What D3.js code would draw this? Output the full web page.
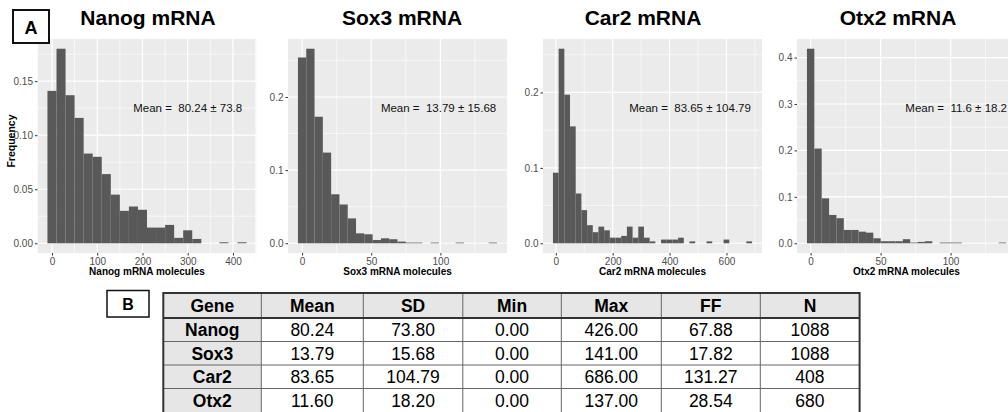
<!DOCTYPE html>
<html><head><meta charset="utf-8">
<script src="https://cdn.jsdelivr.net/npm/d3@7/dist/d3.min.js"></script>
<style>
body{margin:0;background:#fff;}
svg{display:block;font-family:"Liberation Sans",Arial,Helvetica,sans-serif;}
</style>
</head><body>
<svg id="c" width="1008" height="412"></svg>
<script>
// ---------------- data ----------------
const genes = ["Nanog", "Sox3", "Car2", "Otx2"];
const means = [80.24, 13.79, 83.65, 11.60];
const sds = [73.80, 15.68, 104.79, 18.20];
const mins = [0, 0, 0, 0];
const maxs = [426, 141, 686, 137];
const ffs = [67.88, 17.82, 131.27, 28.54];
const ns = [1088, 1088, 408, 680];

// histogram bin widths (bins centred on multiples of the width, first centre = 0)
const binWidths = [20, 6, 20, 137 / 26];
const nanogFreq = [0.141, 0.180, 0.137, 0.116, 0.083, 0.080, 0.064, 0.045, 0.030, 0.034, 0.031,
  0.0145, 0.0145, 0.017, 0.005, 0.012, 0.004, 0, 0, 0.0009, 0, 0.0009];
const sox3Freq = [0.254, 0.266, 0.173, 0.124, 0.067, 0.053, 0.034, 0.0136, 0.0123, 0.0045, 0.0068,
  0.0055, 0.0023, 0.0009, 0.0009, 0, 0.0009, 0, 0, 0.0009, 0, 0, 0, 0.0009];
const car2Freq = [0.0936, 0.258, 0.197, 0.155, 0.066, 0.044, 0.024, 0.0147, 0.0221, 0.0172, 0.0074,
  0.0074, 0.0098, 0.0221, 0.0074, 0.0221, 0.0074, 0.0025, 0, 0.0049, 0.0049, 0.0049, 0.0074, 0,
  0.0025, 0, 0, 0.0025, 0, 0, 0.0049, 0, 0, 0, 0.0025];
const otx2Freq = [0.419, 0.204, 0.0968, 0.061, 0.054, 0.0287, 0.0287, 0.025, 0.0229, 0.0108, 0.0044,
  0.0044, 0.0044, 0.0088, 0.0015, 0.0029, 0.0044, 0, 0.0015, 0.0015, 0.0015, 0, 0, 0, 0, 0, 0.0015];
const freqs = [nanogFreq, sox3Freq, car2Freq, otx2Freq];

const xTicks = [[0, 100, 200, 300, 400], [0, 50, 100], [0, 200, 400, 600], [0, 50, 100]];
const yTicks = [[0, 0.05, 0.10, 0.15], [0, 0.1, 0.2], [0, 0.1, 0.2], [0, 0.1, 0.2, 0.3, 0.4]];
const yTickLabels = [["0.00", "0.05", "0.10", "0.15"], ["0.0", "0.1", "0.2"], ["0.0", "0.1", "0.2"],
  ["0.0", "0.1", "0.2", "0.3", "0.4"]];
const tableHeaders = ["Gene", "Mean", "SD", "Min", "Max", "FF", "N"];

// ---------------- layout ----------------
const L = {
  left: [37.5, 288, 543, 797], w: 219, top: 39, bottom: 253,
  titleX: [148, 402, 643, 898], titleY: 25,
  annot: [[300, 0.125], [98.7, 0.185], [472, 0.179], [104, 0.291]],
  colW: [98, 102, 99.5, 98.5, 100, 99, 99.3], tableX: 163.3, tableY: 293, headH: 25, rowH: 23.5
};

const svg = d3.select("#c");
svg.append("rect").attr("width", 1008).attr("height", 412).attr("fill", "#fff");
const defs = svg.append("defs");

function minorOf(major, dom) {
  const step = major[1] - major[0];
  const out = [];
  const all = [major[0] - step].concat(major, [major[major.length - 1] + step]);
  for (let k = 0; k < all.length - 1; k++) {
    const m = (all[k] + all[k + 1]) / 2;
    if (m > dom[0] && m < dom[1]) out.push(m);
  }
  return out;
}

freqs.forEach((f, i) => {
  const bw = binWidths[i];
  const bins = f.map((v, k) => ({ x0: (k - 0.5) * bw, x1: (k + 0.5) * bw, y: v }));
  const xmin = bins[0].x0, xmax = bins[bins.length - 1].x1;
  const ex = (xmax - xmin) * 0.05;
  const ymax = d3.max(f), ey = ymax * 0.05;
  const xDom = [xmin - ex, xmax + ex], yDom = [-ey, ymax + ey];
  const x = d3.scaleLinear().domain(xDom).range([L.left[i], L.left[i] + L.w]);
  const y = d3.scaleLinear().domain(yDom).range([L.bottom, L.top]);

  const cid = "clip" + i;
  defs.append("clipPath").attr("id", cid).append("rect")
    .attr("x", L.left[i]).attr("y", L.top).attr("width", L.w).attr("height", L.bottom - L.top);

  const g = svg.append("g");
  const p = g.append("g").attr("clip-path", `url(#${cid})`);
  p.append("rect").attr("x", L.left[i]).attr("y", L.top).attr("width", L.w)
    .attr("height", L.bottom - L.top).attr("fill", "#EBEBEB");

  // minor grid
  p.selectAll(".mx").data(minorOf(xTicks[i], xDom)).join("line")
    .attr("x1", d => x(d)).attr("x2", d => x(d)).attr("y1", L.top).attr("y2", L.bottom)
    .attr("stroke", "#fff").attr("stroke-width", 0.6);
  p.selectAll(".my").data(minorOf(yTicks[i], yDom)).join("line")
    .attr("y1", d => y(d)).attr("y2", d => y(d)).attr("x1", L.left[i]).attr("x2", L.left[i] + L.w)
    .attr("stroke", "#fff").attr("stroke-width", 0.6);
  // major grid
  p.selectAll(".Mx").data(xTicks[i]).join("line")
    .attr("x1", d => x(d)).attr("x2", d => x(d)).attr("y1", L.top).attr("y2", L.bottom)
    .attr("stroke", "#fff").attr("stroke-width", 1.2);
  p.selectAll(".My").data(yTicks[i]).join("line")
    .attr("y1", d => y(d)).attr("y2", d => y(d)).attr("x1", L.left[i]).attr("x2", L.left[i] + L.w)
    .attr("stroke", "#fff").attr("stroke-width", 1.2);

  // bars
  p.selectAll(".bar").data(bins.filter(b => b.y > 0)).join("rect")
    .attr("x", d => x(d.x0)).attr("width", d => x(d.x1) - x(d.x0))
    .attr("y", d => y(d.y)).attr("height", d => y(0) - y(d.y))
    .attr("fill", "#595959");

  // annotation
  g.append("text").attr("x", x(L.annot[i][0])).attr("y", y(L.annot[i][1]))
    .attr("dy", "0.35em").attr("text-anchor", "middle").attr("font-size", "11.5px")
    .style("white-space", "pre").attr("fill", "#111")
    .text("Mean =  " + String(means[i]) + " \u00B1 " + String(sds[i]));

  // axes
  const ya = g.append("g").attr("transform", `translate(${L.left[i]},0)`)
    .call(d3.axisLeft(y).tickValues(yTicks[i]).tickFormat((d, j) => yTickLabels[i][j])
      .tickSize(2.5).tickPadding(2));
  const xa = g.append("g").attr("transform", `translate(0,${L.bottom})`)
    .call(d3.axisBottom(x).tickValues(xTicks[i]).tickFormat(d3.format("d"))
      .tickSize(2.5).tickPadding(2));
  [ya, xa].forEach(a => {
    a.select(".domain").remove();
    a.attr("font-family", null).attr("font-size", null);
    a.selectAll("line").attr("stroke", "#333");
    a.selectAll("text").attr("fill", "#4D4D4D").attr("font-size", "10px");
  });

  g.append("text").attr("x", L.left[i] + L.w / 2).attr("y", 275)
    .attr("text-anchor", "middle").attr("font-weight", "bold").attr("font-size", "10px")
    .text(genes[i] + " mRNA molecules");

  svg.append("text").attr("x", L.titleX[i]).attr("y", L.titleY)
    .attr("text-anchor", "middle").attr("font-weight", "bold").attr("font-size", "21px")
    .text(genes[i] + " mRNA");
});

// y axis title
svg.append("text").attr("transform", "translate(14.5,141) rotate(-90)")
  .attr("text-anchor", "middle").attr("font-weight", "bold").attr("font-size", "10.5px")
  .text("Frequency");

// panel labels
svg.append("rect").attr("x", 13).attr("y", 10).attr("width", 36).attr("height", 33)
  .attr("fill", "#fff").attr("stroke", "#111").attr("stroke-width", 2);
svg.append("text").attr("x", 31).attr("y", 33.5).attr("text-anchor", "middle")
  .attr("font-weight", "bold").attr("font-size", "18px").text("A");
svg.append("rect").attr("x", 107).attr("y", 290.5).attr("width", 42).attr("height", 26.5)
  .attr("fill", "#fff").attr("stroke", "#111").attr("stroke-width", 1.5);
svg.append("text").attr("x", 128).attr("y", 309.5).attr("text-anchor", "middle")
  .attr("font-weight", "bold").attr("font-size", "16px").text("B");

// ---------------- table ----------------
const rows = genes.map((gname, i) => [gname, means[i].toFixed(2), sds[i].toFixed(2), mins[i].toFixed(2),
  maxs[i].toFixed(2), ffs[i].toFixed(2), String(ns[i])]);
const colX = [L.tableX];
L.colW.forEach(w => colX.push(colX[colX.length - 1] + w));
const rowY = [L.tableY, L.tableY + L.headH];
rows.forEach(() => rowY.push(rowY[rowY.length - 1] + L.rowH));
const tg = svg.append("g");
const allRows = [tableHeaders].concat(rows);
allRows.forEach((r, ri) => {
  r.forEach((cell, ci) => {
    const gray = ri === 0 || ci === 0;
    tg.append("rect").attr("x", colX[ci]).attr("y", rowY[ri])
      .attr("width", colX[ci + 1] - colX[ci]).attr("height", rowY[ri + 1] - rowY[ri])
      .attr("fill", gray ? "#E6E6E6" : "#fff");
    tg.append("text").attr("x", (colX[ci] + colX[ci + 1]) / 2).attr("y", (rowY[ri] + rowY[ri + 1]) / 2)
      .attr("dy", "0.36em").attr("text-anchor", "middle").attr("font-size", "17.5px")
      .attr("font-weight", gray ? "bold" : "normal").attr("fill", "#000").text(cell);
  });
});
// inner lines
colX.slice(1, -1).forEach(cx => tg.append("line").attr("x1", cx).attr("x2", cx)
  .attr("y1", rowY[0]).attr("y2", rowY[rowY.length - 1]).attr("stroke", "#666").attr("stroke-width", 1));
rowY.slice(2, -1).forEach(ry => tg.append("line").attr("y1", ry).attr("y2", ry)
  .attr("x1", colX[0]).attr("x2", colX[colX.length - 1]).attr("stroke", "#666").attr("stroke-width", 1));
tg.append("line").attr("y1", rowY[1]).attr("y2", rowY[1]).attr("x1", colX[0]).attr("x2", colX[colX.length - 1])
  .attr("stroke", "#333").attr("stroke-width", 2);
tg.append("rect").attr("x", colX[0]).attr("y", rowY[0])
  .attr("width", colX[colX.length - 1] - colX[0]).attr("height", rowY[rowY.length - 1] - rowY[0] + 4)
  .attr("fill", "none").attr("stroke", "#333").attr("stroke-width", 2);
</script>
</body></html>
